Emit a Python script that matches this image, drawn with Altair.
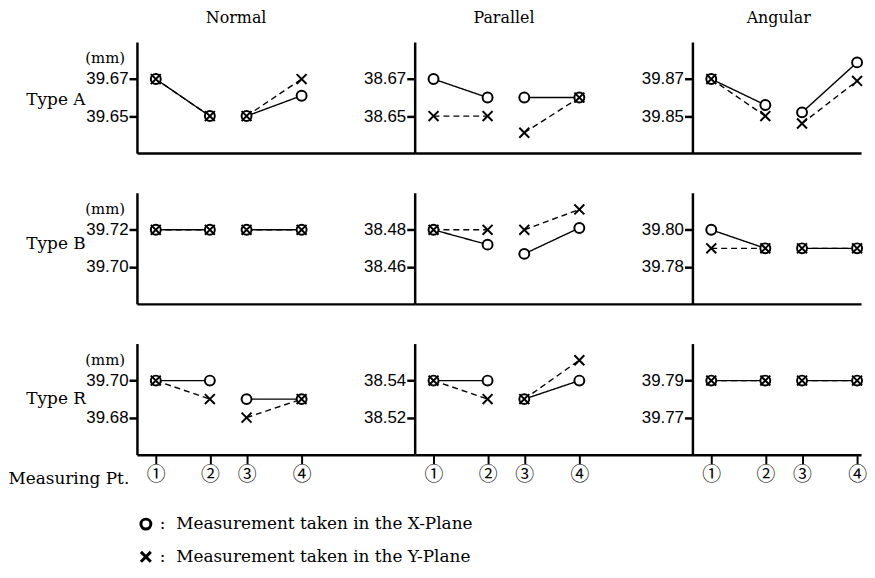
import altair as alt
import pandas as pd

# ---------------- data ----------------
pts = [1, 2, 3, 4]
pt_labels = ["①", "②", "③", "④"]
segments = ["1-2", "1-2", "3-4", "3-4"]
planes = ["X-Plane", "Y-Plane"]
legend_texts = [":\u00a0 Measurement taken in the X-Plane",
                ":\u00a0 Measurement taken in the Y-Plane"]
col_names = ["Normal", "Parallel", "Angular"]
row_names = ["Type A", "Type B", "Type R"]

# upper labelled tick of each panel (lower tick = upper - 0.02)
ticks_A = [39.67, 38.67, 39.87]
ticks_B = [39.72, 38.48, 39.80]
ticks_R = [39.70, 38.54, 39.79]

# Type A
normal_A_x = [39.67, 39.65, 39.65, 39.661]
normal_A_y = [39.67, 39.65, 39.65, 39.67]
parallel_A_x = [38.67, 38.66, 38.66, 38.66]
parallel_A_y = [38.65, 38.65, 38.641, 38.66]
angular_A_x = [39.87, 39.856, 39.852, 39.879]
angular_A_y = [39.87, 39.85, 39.846, 39.869]
# Type B
normal_B_x = [39.72, 39.72, 39.72, 39.72]
normal_B_y = [39.72, 39.72, 39.72, 39.72]
parallel_B_x = [38.48, 38.472, 38.467, 38.481]
parallel_B_y = [38.48, 38.48, 38.48, 38.491]
angular_B_x = [39.80, 39.79, 39.79, 39.79]
angular_B_y = [39.79, 39.79, 39.79, 39.79]
# Type R
normal_R_x = [39.70, 39.70, 39.69, 39.69]
normal_R_y = [39.70, 39.69, 39.68, 39.69]
parallel_R_x = [38.54, 38.54, 38.53, 38.54]
parallel_R_y = [38.54, 38.53, 38.53, 38.551]
angular_R_x = [39.79, 39.79, 39.79, 39.79]
angular_R_y = [39.79, 39.79, 39.79, 39.79]

panel_data = [
    [(normal_A_x, normal_A_y), (parallel_A_x, parallel_A_y), (angular_A_x, angular_A_y)],
    [(normal_B_x, normal_B_y), (parallel_B_x, parallel_B_y), (angular_B_x, angular_B_y)],
    [(normal_R_x, normal_R_y), (parallel_R_x, parallel_R_y), (angular_R_x, angular_R_y)],
]
upper_ticks = [ticks_A, ticks_B, ticks_R]

# ---------------- layout / style ----------------
col_widths = [280, 280, 170]
row_height = 112
pt_pixels = [19, 73.5, 110.5, 166]
title_dx = [-40, -50, 2]
type_title_y = [58, 51, 55]

serif = "DejaVu Serif"
sans = "Liberation Sans"
xpath = "M-1,-1L1,1M-1,1L1,-1"
shape_scale = alt.Scale(domain=planes, range=["circle", xpath])

label_expr = "[" + ",".join("'%s'" % s for s in pt_labels) + "][datum.value - 1]"


def make_panel(ri, ci):
    xs, ys = panel_data[ri][ci]
    recs = []
    for plane, vals in zip(planes, (xs, ys)):
        for p, v, s in zip(pts, vals, segments):
            recs.append({"pt": p, "value": v, "plane": plane, "seg": s})
    df = pd.DataFrame(recs)
    T = upper_ticks[ri][ci]
    W = col_widths[ci]
    bottom = ri == 2
    first = ci == 0

    xscale = alt.Scale(domain=[0, 1, 2, 3, 4, 5],
                       range=[0] + pt_pixels + [W], nice=False, zero=False)
    xaxis = alt.Axis(
        values=pts,
        labels=bottom,
        ticks=bottom,
        labelExpr=label_expr,
        labelFont="Noto Sans CJK JP",
        labelFontSize=19,
        labelPadding=2,
        tickSize=9,
        tickWidth=2,
        domainWidth=2.5,
        title="Measuring Pt." if (bottom and first) else None,
        titleFont=serif,
        titleFontSize=17,
        titleFontWeight="normal",
        titleAngle=0,
        titleAlign="left",
        titleBaseline="middle",
        titleX=-130,
        titleY=24,
    )
    yscale = alt.Scale(domain=[round(T - 0.04, 3), round(T + 0.02, 3)], nice=False, zero=False)
    yaxis = alt.Axis(
        values=[round(T - 0.02, 2), T],
        format=".2f",
        labelFont=sans,
        labelFontSize=17,
        labelPadding=1,
        tickSize=8,
        tickWidth=2.5,
        domainWidth=2.5,
        title=row_names[ri] if first else None,
        titleFont=serif,
        titleFontSize=17,
        titleFontWeight="normal",
        titleAngle=0,
        titleAlign="left",
        titleBaseline="middle",
        titleX=-112,
        titleY=type_title_y[ri],
    )
    x = alt.X("pt:Q", scale=xscale, axis=xaxis)
    y = alt.Y("value:Q", scale=yscale, axis=yaxis)

    base = alt.Chart(df)
    lines = base.mark_line(color="black", strokeWidth=1.4).encode(
        x=x, y=y, detail="seg:N",
        strokeDash=alt.StrokeDash("plane:N",
                                  scale=alt.Scale(domain=planes, range=[[1, 0], [6, 4]]),
                                  legend=None),
    )
    points = base.mark_point(fill="white", fillOpacity=1, stroke="black",
                             strokeWidth=2, size=100, opacity=1).encode(
        x=x, y=y,
        shape=alt.Shape("plane:N", scale=shape_scale, legend=None),
    )
    layers = [lines, points]
    if first:
        mm = alt.Chart(pd.DataFrame({"t": ["(mm)"]})).mark_text(
            font=serif, fontSize=15, align="right", baseline="middle", dy=-21, color="black"
        ).encode(x=alt.value(-12), y=alt.datum(T), text="t:N")
        layers.append(mm)
    ch = alt.layer(*layers).properties(width=W, height=row_height)
    if ri == 0:
        ch = ch.properties(title=alt.TitleParams(
            col_names[ci], font=serif, fontSize=16, fontWeight="normal", color="black",
            anchor="middle", dx=title_dx[ci], offset=16))
    return ch


def make_legend():
    ldf = pd.DataFrame({"plane": planes, "text": legend_texts})
    lb = alt.Chart(ldf)
    ly = alt.Y("plane:N", scale=alt.Scale(type="point", domain=planes, range=[30, 63], padding=0),
               axis=None)
    sym = lb.mark_point(fill="white", fillOpacity=1, stroke="black", strokeWidth=3,
                        size=100, opacity=1).encode(
        x=alt.value(9), y=ly, shape=alt.Shape("plane:N", scale=shape_scale, legend=None))
    txt = lb.mark_text(font=serif, fontSize=17, align="left", baseline="middle",
                       color="black").encode(x=alt.value(23), y=ly, text="text:N")
    return alt.layer(sym, txt).properties(width=280, height=60)


panels = [make_panel(ri, ci) for ri in range(3) for ci in range(3)]
panels.append(make_legend())

chart = alt.concat(*panels, columns=3, spacing={"row": 40, "column": 0},
                   bounds="flush").resolve_scale(
    shape="independent", strokeDash="independent"
).properties(
    padding={"left": 0, "top": 0, "right": 0, "bottom": 0}
).configure_view(stroke=None).configure_axis(
    domainColor="black", tickColor="black", labelColor="black", titleColor="black", grid=False
)

chart.save("out.html", embed_options={"renderer": "svg", "actions": False})
